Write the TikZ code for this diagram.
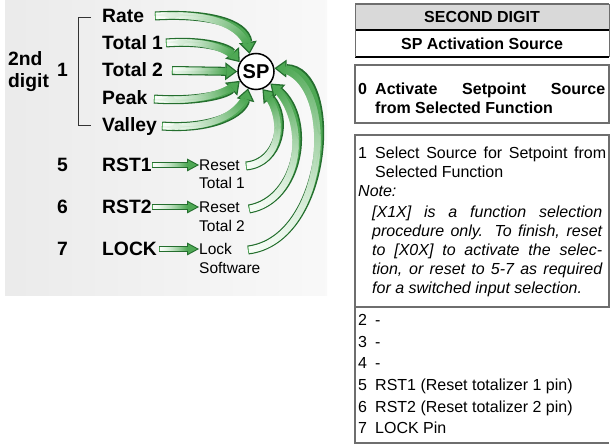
\documentclass[tikz,border=0pt]{standalone}
\usepackage{fontspec}
\setmainfont{Liberation Sans}
\usetikzlibrary{arrows.meta,decorations.markings}
\definecolor{agreen}{RGB}{78,168,84}
\definecolor{dkgreen}{RGB}{36,110,46}
\definecolor{lgreen}{RGB}{248,253,248}
\definecolor{tline}{RGB}{110,110,110}
\newcount\gcnt
\newcommand\gradmark{%
  \global\advance\gcnt by 1
  \pgfmathtruncatemacro\gp{min(100,((\the\gcnt/\gtot)^1.5)*100)}%
  \fill[agreen!\gp!lgreen] (-0.45pt,-\hw) rectangle (0.45pt,\hw);}
\newcommand\gradpath[3]{% start, halfwidth, path
  \global\gcnt=0
  \path[decorate, decoration={markings, mark=between positions #1 and -11pt step 0.5pt with {\global\advance\gcnt by 1}}] #3;
  \ifnum\gcnt<1 \global\gcnt=1 \fi
  \edef\gtot{\the\gcnt}%
  \global\gcnt=0
  \def\hw{#2}%
  \path[decorate, decoration={markings, mark=between positions #1 and -11pt step 0.5pt with {\gradmark}}] #3;}
\newcommand\bigarrow[1]{%
  \draw[dkgreen, line width=9pt, -{Triangle[length=12pt,width=18pt,line width=0pt]}] #1;
  \draw[agreen, line width=6.4pt, shorten >=2.2pt, -{Triangle[length=8.5pt,width=12.8pt,line width=0pt]}] #1;
  \gradpath{1.3pt}{3.2pt}{#1}}
\newcommand\smallarrow[1]{%
  \draw[dkgreen, line width=6.5pt, -{Triangle[length=12pt,width=13pt,line width=0pt]}] #1;
  \draw[agreen, line width=4.3pt, shorten >=2.2pt, -{Triangle[length=8.6pt,width=9.3pt,line width=0pt]}] #1;
  \gradpath{1.1pt}{2.15pt}{#1}}
\tikzset{
  blbl/.style={anchor=base west, inner sep=0pt, font=\fontsize{19.3}{21}\selectfont\bfseries},
  slbl/.style={anchor=base west, inner sep=0pt, font=\fontsize{15.5}{18}\selectfont},
  ttxt/.style={anchor=base west, inner sep=0pt, font=\fontsize{16}{18}\selectfont},
  thead/.style={anchor=base, inner sep=0pt, font=\fontsize{16}{18}\selectfont\bfseries},
  tl/.style={tline, line width=1.4pt},
  tb/.style={black, line width=1.1pt},
}
\begin{document}
\begin{tikzpicture}[x=1pt,y=-1pt]
\useasboundingbox (0,0) rectangle (610,446);
% ---------- left panel ----------
\shade[left color=gray!16, right color=gray!5] (5,0) rectangle (327,295);
\node[blbl] (l2nd) at (8,66) {2nd};
\node[blbl] (ldigit) at (8,88) {digit};
\node[blbl] (lone) at (57,77) {1};
\coordinate (bt) at (91,17);
\coordinate (bb) at (91,125);
\draw[black!80, line width=0.9pt] (bt) -- (78,17) -- (78,125) -- (bb);
\node[blbl] (rate) at (102,23) {Rate};
\node[blbl] (tot1) at (102,50) {Total 1};
\node[blbl] (tot2) at (102,77) {Total 2};
\node[blbl] (peak) at (102,105) {Peak};
\node[blbl] (valley) at (102,132) {Valley};
\node[blbl] (n5) at (57,171.6) {5};
\node[blbl] (n6) at (57,213.6) {6};
\node[blbl] (n7) at (57,255.6) {7};
\node[blbl] (rst1) at (102,171.6) {RST1};
\node[blbl] (rst2) at (102,213.6) {RST2};
\node[blbl] (lock) at (102,255.6) {LOCK};
\node[slbl] (res1) at (199,170.5) {Reset};
\node[slbl] (tt1) at (199,188.5) {Total 1};
\node[slbl] (res2) at (199,212.5) {Reset};
\node[slbl] (tt2) at (199,232) {Total 2};
\node[slbl] (lck) at (199,254.5) {Lock};
\node[slbl] (sw) at (199,273.5) {Software};
\node[circle, draw, line width=1.5pt, fill=white, minimum size=36pt, inner sep=0pt,
      font=\fontsize{20}{20}\selectfont\bfseries] (sp) at (256,71.5) {SP};
% tails
\coordinate (ta) at (155,16);
\coordinate (tb1) at (166,43);
\coordinate (tc) at (172,70.5);
\coordinate (td) at (154,99);
\coordinate (te) at (162,126);
\coordinate (tf) at (246,166);
\coordinate (tg) at (249,209);
\coordinate (th) at (248,250);
\bigarrow{(ta) .. controls (205,13) and (245,22) .. (sp.110)}
\bigarrow{(tb1) .. controls (205,40) and (228,48) .. (sp.150)}
\bigarrow{(tc) -- (sp.west)}
\bigarrow{(td) .. controls (195,102) and (225,95) .. (sp.210)}
\bigarrow{(te) .. controls (215,130) and (243,112) .. (sp.245)}
\bigarrow{(tf) .. controls (280,163) and (288,118) .. (sp.290)}
\bigarrow{(tg) .. controls (300,200) and (312,120) .. (sp.320)}
\bigarrow{(th) .. controls (330,240) and (340,70) .. (sp.10)}
% small arrows
\coordinate (sa1) at (152,165);
\coordinate (sa2) at (152,207);
\coordinate (sa3) at (159,249);
\smallarrow{(sa1) -- (res1.west |- sa1)}
\smallarrow{(sa2) -- (res2.west |- sa2)}
\smallarrow{(sa3) -- (lck.west |- sa3)}
% ---------- table ----------
\fill[gray!30] (355,5) rectangle (609,30);
\draw[tline, line width=2pt] (355,4) -- (609,4);
\draw[tb] (355,30) -- (609,30);
\draw[tb] (355,57) -- (609,57);
\draw[tl, line width=0.8pt] (355,4) -- (355,57) (609,4) -- (609,57);
\node[thead] (h1) at (482,22.7) {SECOND DIGIT};
\node[thead] (h2) at (482,49.7) {SP Activation Source};
% box 0
\draw[tl] (355,65) rectangle (609,123);
\node[ttxt, font=\fontsize{16}{18}\selectfont\bfseries] (z0) at (358,94.7) {0};
\node[ttxt] (z0a) at (375,94.7) {\makebox[230pt][s]{\bfseries Activate Setpoint Source}};
\node[ttxt, font=\fontsize{16}{18}\selectfont\bfseries] (z0b) at (375,113.7) {from Selected Function};
% box 1
\draw[tl] (355,135) -- (609,135) -- (609,307) -- (355,307) -- cycle;
\node[ttxt] (o1) at (358,158.7) {1};
\node[ttxt] (o1a) at (375,158.7) {\makebox[231pt][s]{Select Source for Setpoint from}};
\node[ttxt] (o1b) at (375,177.7) {Selected Function};
\node[ttxt, font=\fontsize{16}{18}\selectfont\itshape] (note) at (358,196.7) {Note:};
\node[ttxt, font=\fontsize{16}{18}\selectfont\itshape] (nl1) at (372,217.2) {\makebox[230pt][s]{[X1X] is a function selection}};
\node[ttxt, font=\fontsize{16}{18}\selectfont\itshape] (nl2) at (372,236.4) {\makebox[230pt][s]{procedure only. To finish, reset}};
\node[ttxt, font=\fontsize{16}{18}\selectfont\itshape] (nl3) at (372,255.6) {\makebox[230pt][s]{to [X0X] to activate the selec-}};
\node[ttxt, font=\fontsize{16}{18}\selectfont\itshape] (nl4) at (372,274.8) {\makebox[230pt][s]{tion, or reset to 5-7 as required}};
\node[ttxt, font=\fontsize{16}{18}\selectfont\itshape] (nl5) at (372,294) {for a switched input selection.};
% list
\draw[tl] (355,307) -- (355,443) -- (609,443);
\node[ttxt] (r2) at (358,325.7) {2};
\node[ttxt] (r2t) at (375,325.7) {-};
\node[ttxt] (r3) at (358,347.3) {3};
\node[ttxt] (r3t) at (375,347.3) {-};
\node[ttxt] (r4) at (358,368.9) {4};
\node[ttxt] (r4t) at (375,368.9) {-};
\node[ttxt] (r5) at (358,390.5) {5};
\node[ttxt] (r5t) at (375,390.5) {RST1 (Reset totalizer 1 pin)};
\node[ttxt] (r6) at (358,412.1) {6};
\node[ttxt] (r6t) at (375,412.1) {RST2 (Reset totalizer 2 pin)};
\node[ttxt] (r7) at (358,433.7) {7};
\node[ttxt] (r7t) at (375,433.7) {LOCK Pin};
\end{tikzpicture}
\end{document}
